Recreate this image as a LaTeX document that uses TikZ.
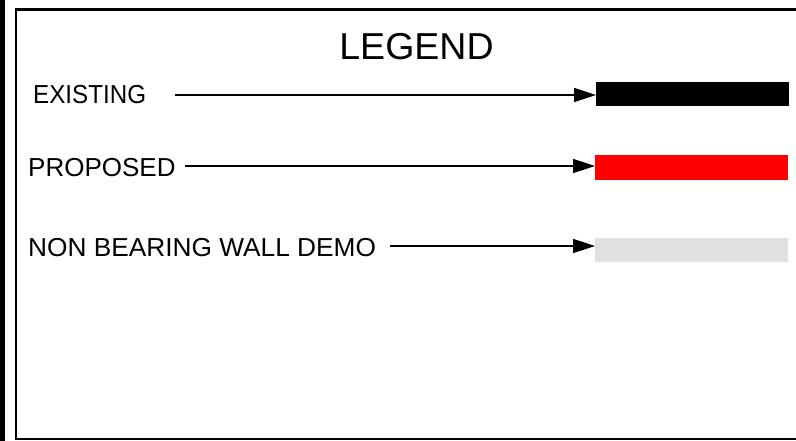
\documentclass[tikz,border=0pt]{standalone}
\usepackage{fontspec}
\setmainfont{Liberation Sans}
\usetikzlibrary{arrows.meta}
\begin{document}
\begin{tikzpicture}[x=1pt,y=-1pt,
  lab/.style={font=\fontsize{26}{30}\selectfont, inner sep=0pt, anchor=base west},
  title/.style={font=\fontsize{37.5}{42}\selectfont, inner sep=0pt, anchor=base},
  bar/.style={draw=none, inner sep=0pt, anchor=north west},
  conn/.style={line width=1.6pt, -{Triangle[length=22pt,width=14pt]}},
  frame/.style={line width=2.5pt}]
\useasboundingbox (0,0) rectangle (796,441);
\clip (0,0) rectangle (796,441);
\fill[white] (0,0) rectangle (796,441);
\fill[black] (0,0) rectangle (5,441);
\draw[frame] (820,9.5) -- (16,9.5) -- (16,439) -- (820,439);
\node[title] (legend) at (416.5,60) {LEGEND};
\node[lab] (ex) at (33,104) {\scalebox{0.93}[1]{EXISTING}};
\node[lab] (pr) at (28,177) {PROPOSED};
\node[lab] (nb) at (28,256) {\scalebox{1.01}[1]{NON BEARING WALL DEMO}};
\node[bar, fill=black, minimum width=193pt, minimum height=24pt] (exbar) at (596,82) {};
\node[bar, fill=red, minimum width=193pt, minimum height=25pt] (prbar) at (595,155) {};
\node[bar, fill={rgb,255:red,224;green,224;blue,224}, minimum width=193pt, minimum height=24pt] (nbbar) at (595,238) {};
\coordinate (exs) at (175,95);
\coordinate (prs) at (185,166);
\coordinate (nbs) at (390,246);
\draw[conn] (exs) -- (exs -| exbar.west);
\draw[conn] (prs) -- (prs -| prbar.west);
\draw[conn] (nbs) -- (nbs -| nbbar.west);
\end{tikzpicture}
\end{document}
